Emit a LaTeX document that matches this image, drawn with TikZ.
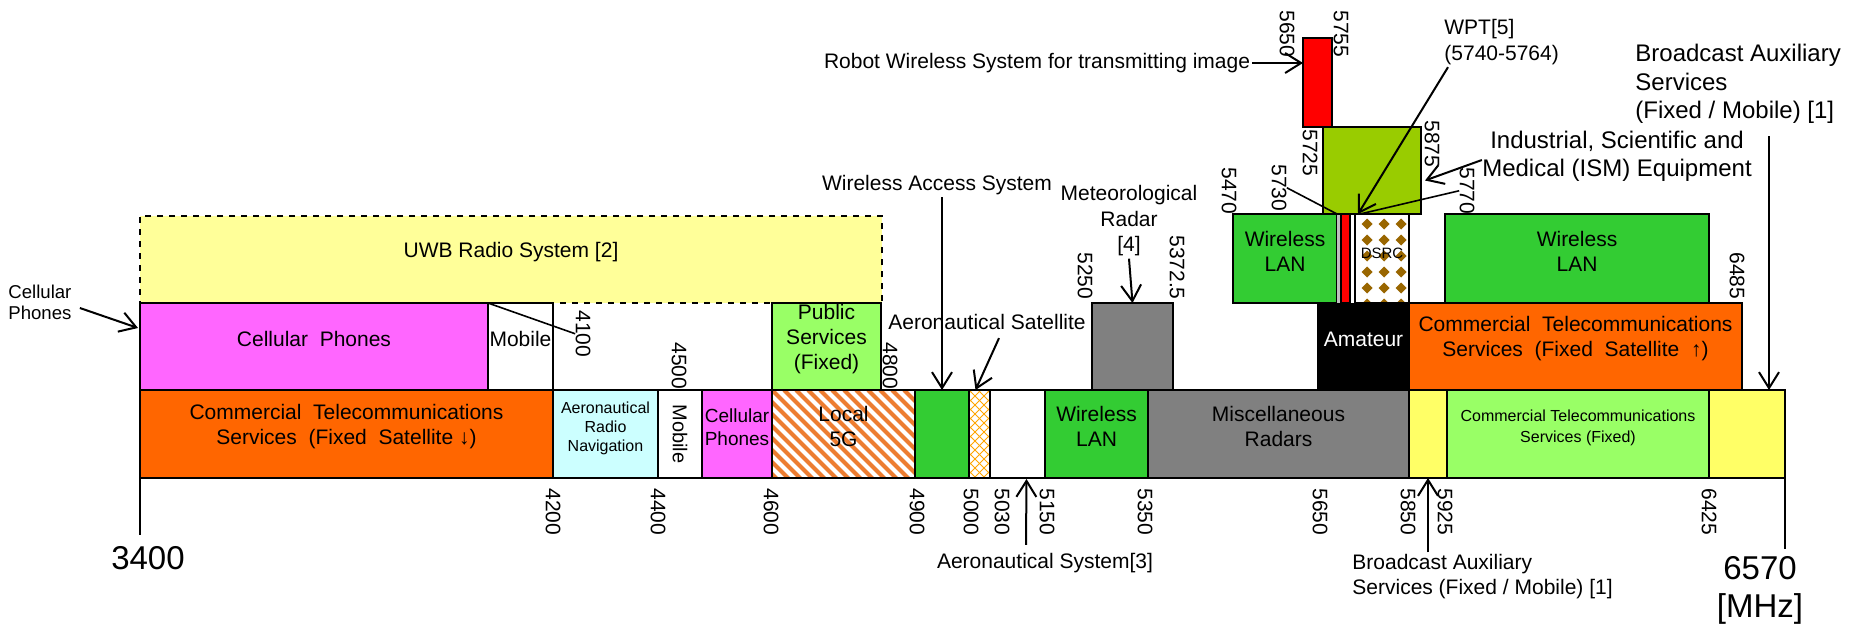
\documentclass[tikz,border=0pt]{standalone}
\usepackage{fontspec}
\setmainfont{Liberation Sans}
\usetikzlibrary{arrows.meta,calc,fit}

\definecolor{fssorange}{HTML}{FF6600}
\definecolor{cellpink}{HTML}{FF66FF}
\definecolor{navcyan}{HTML}{CCFFFF}
\definecolor{fixgreen}{HTML}{99FF66}
\definecolor{langreen}{HTML}{33CC33}
\definecolor{radargrey}{HTML}{808080}
\definecolor{uwbyellow}{HTML}{FFFF99}
\definecolor{bcyellow}{HTML}{FFFF66}
\definecolor{ismgreen}{HTML}{99CC00}
\definecolor{dsrcbrown}{HTML}{996600}
\definecolor{hatchorange}{HTML}{ED7D31}
\definecolor{satorange}{HTML}{FFA500}

\tikzset{
  band/.style={draw, line width=0.8pt, inner sep=0pt, outer sep=0pt, align=center},
  freq/.style={rotate=-90, anchor=west, inner sep=0pt, font=\fontsize{10.5}{12}\selectfont},
  lab/.style={inner sep=1pt, align=center},
  callout/.style={line width=1pt, -{Straight Barb[length=8pt,width=10pt]}},
  leader/.style={line width=0.8pt},
  stripes/.style={path picture={
    \foreach \k in {-8,...,12}
      \draw[hatchorange, line width=2pt] ($(path picture bounding box.north west)+(\k*12,0)$) -- ++(100,100);}},
  xhatch/.style={path picture={
    \foreach \k in {-12,...,4} {
      \draw[satorange, line width=0.45pt] ($(path picture bounding box.north west)+(\k*9,0)$) -- ++(100,100);
      \draw[satorange, line width=0.45pt] ($(path picture bounding box.north east)+(-\k*9,0)$) -- ++(-100,100);}}},
  dots/.style={path picture={
    \foreach \i in {0,...,3} \foreach \j in {0,...,6}
      \fill[dsrcbrown] ($(path picture bounding box.north west)+(\i*17+12,\j*16+10)$)
        +(-5.5,0) -- +(0,-5.5) -- +(5.5,0) -- +(0,5.5) -- cycle;}},
}

\begin{document}
\begin{tikzpicture}[x=0.5pt, y=-0.5pt, font=\fontsize{10.5}{12.5}\selectfont]
\fill[white] (0,0) rectangle (1864,628);
\useasboundingbox (0,0) rectangle (1864,628);

% upper tiers
\node[band, dashed, fill=uwbyellow, fit={(140,216) (882,303)}] (uwb) {UWB Radio System [2]};
\node[band, fill=cellpink, fit={(140,303) (488,390)}] (cellA) {Cellular\ \ Phones};
\node[band, fill=white, fit={(488,303) (553,390)}] (mobA) {Mobile};
\node[band, fill=fixgreen, align=left, fit={(772,303) (881,390)}] (pub) {Public\\Services\\(Fixed)};
\node[band, fill=radargrey, fit={(1092,303) (1173,390)}] (met) {};
\node[band, fill=black, text=white, fit={(1318,303) (1409,390)}] (amat) {Amateur};
\node[band, fill=fssorange, fit={(1409,303) (1742,390)}] (fssup) {Commercial\ \ Telecommunications\\Services\ \ (Fixed\ \ Satellite\ \ ↑)};
\node[band, fill=langreen, fit={(1233,214) (1337,303)}] (wlanB) {Wireless\\LAN};
\node[band, draw=none, fill=lightgray, fit={(1337,214) (1341,303)}] (gap) {};
\node[band, fill=red, fit={(1341,214) (1350,303)}] (wpt) {};
\node[band, fill=white, line width=0.5pt, fit={(1350,214) (1355,303)}] (gapB) {};
\node[band, fill=white, dots, font=\fontsize{7.5}{9}\selectfont, fit={(1355,214) (1409,303)}] (dsrc) {DSRC};
\node[band, fill=langreen, fit={(1445,214) (1709,303)}] (wlanC) {Wireless\\LAN};
\node[band, fill=ismgreen, fit={(1323,127) (1421,214)}] (ism) {};
\node[band, fill=red, fit={(1303,38) (1332,127)}] (robot) {};

% lower row
\node[band, fill=fssorange, fit={(140,390) (553,478)}] (fssdn) {Commercial\ \ Telecommunications\\Services\ \ (Fixed\ \ Satellite ↓)};
\node[band, fill=navcyan, font=\fontsize{8}{9.5}\selectfont, fit={(553,390) (658,478)}] (arn) {Aeronautical\\Radio\\Navigation};
\node[band, fill=white, fit={(658,390) (702,478)}] (mobB) {};
\node[rotate=-90, font=\fontsize{10}{12}\selectfont] at (mobB) {Mobile};
\node[band, fill=cellpink, font=\fontsize{9.5}{11.5}\selectfont, fit={(702,390) (772,478)}] (cellB) {Cellular\\Phones};
\node[band, fill=white, stripes, fit={(772,390) (915,478)}] (loc5g) {Local\\5G};
\node[band, fill=langreen, fit={(915,390) (969,478)}] (was) {};
\node[band, fill=white, xhatch, fit={(969,390) (990,478)}] (asat) {};
\node[band, fill=white, fit={(990,390) (1045,478)}] (aero) {};
\node[band, fill=langreen, fit={(1045,390) (1148,478)}] (wlanA) {Wireless\\LAN};
\node[band, fill=radargrey, fit={(1148,390) (1409,478)}] (misc) {Miscellaneous\\Radars};
\node[band, fill=bcyellow, fit={(1409,390) (1447,478)}] (bcA) {};
\node[band, fill=fixgreen, font=\fontsize{8}{10.5}\selectfont, fit={(1447,390) (1709,478)}] (fixd) {Commercial Telecommunications\\Services (Fixed)};
\node[band, fill=bcyellow, fit={(1709,390) (1785,478)}] (bcB) {};

% frequency marks
\foreach \f/\x in {4200/553, 4400/658, 4600/771, 4900/917, 5000/971, 5030/1002, 5150/1047, 5350/1145, 5650/1320, 5850/1408, 5925/1445, 6425/1709}
  \node[freq] (b\f) at (\x,488) {\f};
\foreach \f/\x/\y/\n in {4100/583/310/t4100, 4500/679/342/t4500, 4800/890/342/t4800, 5250/1085/252/t5250, 5372.5/1177/235/t5372, 5650/1287/10/t5650, 5755/1341/10/t5755, 5725/1310/129/t5725, 5875/1432/120/t5875, 5730/1279/164/t5730, 5470/1229/167/t5470, 5770/1467/167/t5770, 6485/1737/252/t6485}
  \node[freq] (\n) at (\x,\y) {\f};

\draw[leader] (fssdn.south west) -- ++(0,57);
\draw[leader] (bcB.south east) -- ++(0,71);
\node[font=\fontsize{16.5}{18}\selectfont] (lo) at (148,558) {3400};
\node[align=center, font=\fontsize{16.5}{19}\selectfont] (hi) at (1760,590) {6570\\{[MHz]}};

\draw[leader] (mobA.north west) -- (t4100.south);
\draw[leader] (t5730.north) -- (wlanB.north east);
\draw[leader] (t5770.south) -- ($(dsrc.north west)+(5,0)$);

% callouts
\node[lab, align=left, anchor=west, font=\fontsize{9.3}{10.5}\selectfont] (cellL) at (6,302) {Cellular\\Phones};
\draw[callout] ($(cellL.east)+(6,6)$) -- ($(cellA.north west)+(-2,25)$);

\node[lab] (wasL) at (937,185) {Wireless Access System};
\node[lab] (asatL) at (987,322) {Aeronautical Satellite};
\draw[callout] (wasL.south -| was.north) -- (was.north);
\draw[callout] ($(asatL.south)+(12,6)$) -- ($(asat.north)+(-4,0)$);

\node[lab] (aeroL) at (1045,563) {Aeronautical System[3]};
\draw[callout] ($(aeroL.north)+(-19,-6)$) -- ($(aero.south)+(9,1)$);

\node[lab, font=\fontsize{10.5}{12.75}\selectfont] (metL) at (1129,221) {Meteorological\\Radar\\{[4]}};
\draw[callout] (metL.south) -- (met.north);

\node[lab] (robotL) at (1037,63) {Robot Wireless System for transmitting image};
\draw[callout] (robotL.east) -- (robotL.east -| robot.west);

\node[lab, align=left, anchor=west, font=\fontsize{10.5}{13}\selectfont] (wptL) at (1442,42) {WPT[5]\\(5740-5764)};
\draw[callout] ($(wptL.south west)+(6,0)$) -- ($(dsrc.north west)+(3,0)$);

\node[lab, font=\fontsize{12}{14}\selectfont] (ismL) at (1617,156) {Industrial, Scientific and\\Medical (ISM) Equipment};
\draw[callout] ($(ismL.west)+(2,4)$) -- ($(ism.east)+(4,10)$);

\node[lab, align=left, anchor=west, font=\fontsize{12}{14.25}\selectfont] (bcTopL) at (1633,84) {Broadcast Auxiliary\\Services\\(Fixed / Mobile) [1]};
\coordinate (bcTopEnd) at ($(bcB.north east)+(-16,0)$);
\draw[callout] ($(bcTopEnd |- bcTopL.south)+(0,10)$) -- (bcTopEnd);

\node[lab, align=left, anchor=west, font=\fontsize{10.5}{12.5}\selectfont] (bcBotL) at (1350,577) {Broadcast Auxiliary\\Services (Fixed / Mobile) [1]};
\draw[callout] (bcA.south |- bcBotL.north) -- (bcA.south);
\end{tikzpicture}
\end{document}
